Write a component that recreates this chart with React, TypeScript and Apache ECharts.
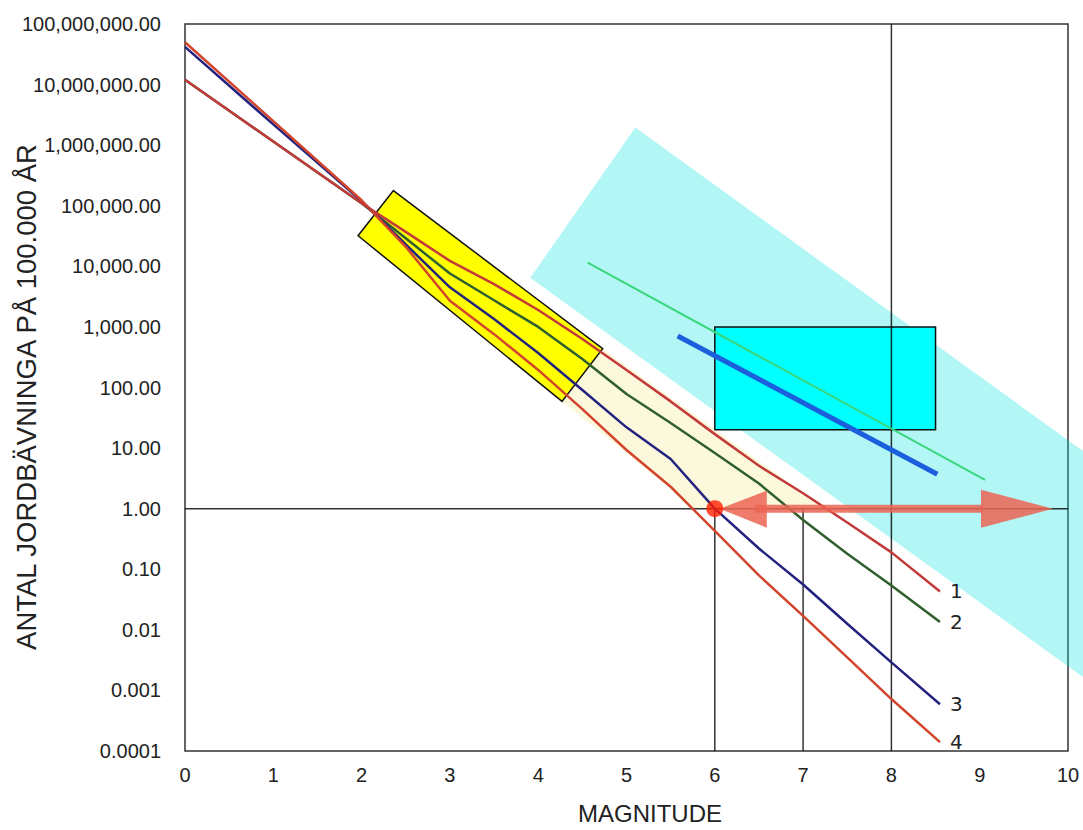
import React, { useEffect, useRef } from "react";
import * as echarts from "echarts";

// ---- data ----
const xs = [0, 1, 2, 2.5, 3, 3.5, 4, 4.5, 5, 5.5, 6, 6.5, 7, 7.5, 8, 8.55];
const line1 = [1.2e7, 1.15e6, 1.1e5, 3.7e4, 1.23e4, 5100, 1900, 630, 195, 59, 17, 5.1, 1.8, 0.59, 0.19, 0.043];
const line2 = [1.2e7, 1.15e6, 1.1e5, 2.9e4, 7600, 2750, 1000, 295, 78, 26, 8.3, 2.6, 0.65, 0.18, 0.054, 0.0135];
const line3 = [4.2e7, 2.2e6, 1.2e5, 2.3e4, 4500, 1350, 370, 91, 22, 6.6, 1.0, 0.22, 0.056, 0.0126, 0.0029, 0.00059];
const line4 = [5e7, 2.5e6, 1.23e5, 2.1e4, 2700, 760, 195, 44, 9.3, 2.3, 0.43, 0.079, 0.017, 0.0035, 0.00072, 0.00014];
const lineNames = ["1", "2", "3", "4"];

const yTickLabels = [
  "0.0001", "0.001", "0.01", "0.10", "1.00", "10.00", "100.00", "1,000.00",
  "10,000.00", "100,000.00", "1,000,000.00", "10,000,000.00", "100,000,000.00",
];
const yTitle = "ANTAL JORDBÄVNINGA PÅ 100.000 ÅR";
const xTitle = "MAGNITUDE";

const yellowBox = [[2.36, 1.78e5], [4.73, 437], [4.27, 59], [1.96, 3.2e4]];
const paleRegion = [[4.73, 437], [7.25, 1], [5.78, 1], [4.27, 59]];
const cyanBand = [[5.1, 1.95e6], [11.89, 0.138], [10.7, 4.6e-4], [3.91, 6460]];
const cyanBox = [[6, 1000], [8.5, 1000], [8.5, 20], [6, 20]];
const greenSeg = [[4.56, 1.15e4], [9.06, 3.0]];
const blueSeg = [[5.58, 710], [8.52, 3.7]];
const refLines = [
  [[8, 1e-4], [8, 1e8]],
  [[0, 1], [10, 1]],
  [[6, 1e-4], [6, 1]],
  [[7, 1e-4], [7, 1]],
];
const arrowFrom = [6, 1];
const arrowTo = [9.83, 1];
const redDot = [[6, 1]];

const pair = (ys: number[]) => xs.map((x, i) => [x, ys[i]]);

const polyRender = (points: number[][], style: any) => (_p: any, api: any) => ({
  type: "polygon",
  shape: { points: points.map((p) => api.coord(p)) },
  style,
});

export default function App() {
  const ref = useRef<HTMLDivElement>(null);
  useEffect(() => {
    document.body.style.margin = "0";
    const chart = echarts.init(ref.current!, null, { renderer: "svg" });
    const font = "Liberation Sans";
    const dataLine = (name: string, ys: number[], color: string) => ({
      type: "line",
      name,
      data: pair(ys),
      symbol: "none",
      z: 5,
      silent: true,
      lineStyle: { color, width: 2.5 },
      endLabel: {
        show: true,
        formatter: name,
        color: "#222",
        fontSize: 20,
        fontFamily: "DejaVu Sans",
        distance: 10,
      },
    });
    const option: any = {
      animation: false,
      backgroundColor: "#ffffff",
      grid: {
        left: 185, top: 24, right: 15, bottom: 79,
        containLabel: false, outerBoundsMode: "none",
        show: true, borderColor: "#333", borderWidth: 1.5, backgroundColor: "transparent",
      },
      graphic: [
        {
          type: "text",
          x: 26,
          y: 397,
          rotation: Math.PI / 2,
          style: {
            text: yTitle,
            fill: "#222",
            font: `27.5px "${font}"`,
            align: "center",
            verticalAlign: "middle",
          },
        },
      ],
      xAxis: {
        type: "value", min: 0, max: 10, interval: 1,
        axisLine: { show: false }, axisTick: { show: false }, splitLine: { show: false },
        axisLabel: { color: "#222", fontSize: 20, fontFamily: font, margin: 14 },
        name: xTitle, nameLocation: "middle", nameGap: 50,
        nameTextStyle: { fontSize: 24, color: "#222", fontFamily: font, padding: [0, 0, 0, 47] },
      },
      yAxis: {
        type: "log", logBase: 10, min: 1e-4, max: 1e8, interval: 1, splitNumber: 12,
        axisLine: { show: false }, axisTick: { show: false }, splitLine: { show: false },
        axisLabel: {
          color: "#222", fontSize: 20, fontFamily: font, margin: 24, interval: 0,
          formatter: (v: number) => yTickLabels[Math.round(Math.log10(v)) + 4] ?? "",
        },
      },
      series: [
        { type: "custom", silent: true, clip: false, z: 1, data: [[0, 1]],
          renderItem: polyRender(cyanBand, { fill: "rgba(0,225,225,0.3)" }) },
        { type: "custom", silent: true, z: 1, data: [[0, 1]],
          renderItem: polyRender(paleRegion, { fill: "#fcf8dc" }) },
        { type: "custom", silent: true, z: 1, data: [[0, 1]],
          renderItem: polyRender(yellowBox, { fill: "#ffff00", stroke: "#111", lineWidth: 1.5 }) },
        { type: "custom", silent: true, z: 1, data: [[0, 1]],
          renderItem: polyRender(cyanBox, { fill: "#00ffff", stroke: "#111", lineWidth: 1.5 }) },
        ...refLines.map((pts) => ({
          type: "line", data: pts, symbol: "none", silent: true, z: 3,
          lineStyle: { color: "rgba(0,0,0,0.8)", width: 1.5 },
        })),
        { type: "line", data: greenSeg, symbol: "none", silent: true, z: 4,
          lineStyle: { color: "#3ad67e", width: 2 } },
        { type: "line", data: blueSeg, symbol: "none", silent: true, z: 4,
          lineStyle: { color: "#1c5fdc", width: 5 } },
        dataLine(lineNames[1], line2, "#2f5f2f"),
        dataLine(lineNames[2], line3, "#23237f"),
        dataLine(lineNames[3], line4, "#d2452c"),
        dataLine(lineNames[0], line1, "#c33a3a"),
        {
          type: "custom", silent: true, z: 6, data: [[0, 1]],
          renderItem: (_p: any, api: any) => {
            const a = api.coord(arrowFrom);
            const b = api.coord(arrowTo);
            const y = a[1];
            const style = { fill: "#ec6452", opacity: 0.85 };
            return {
              type: "group",
              children: [
                { type: "rect", shape: { x: a[0] + 40, y: y - 4, width: b[0] - a[0] - 110, height: 8 }, style },
                { type: "polygon", shape: { points: [[a[0] + 5, y], [a[0] + 52, y - 18], [a[0] + 52, y + 19]] }, style },
                { type: "polygon", shape: { points: [[b[0], y], [b[0] - 72, y - 19], [b[0] - 72, y + 19]] }, style },
              ],
            };
          },
        },
        { type: "scatter", data: redDot, symbolSize: 17, silent: true, z: 7,
          itemStyle: { color: "#ff1f00" } },
      ],
    };
    chart.setOption(option);
    return () => chart.dispose();
  }, []);
  return (
    <div
      ref={ref}
      style={{ position: "absolute", left: 0, top: 0, width: 1083, height: 830 }}
    />
  );
}
